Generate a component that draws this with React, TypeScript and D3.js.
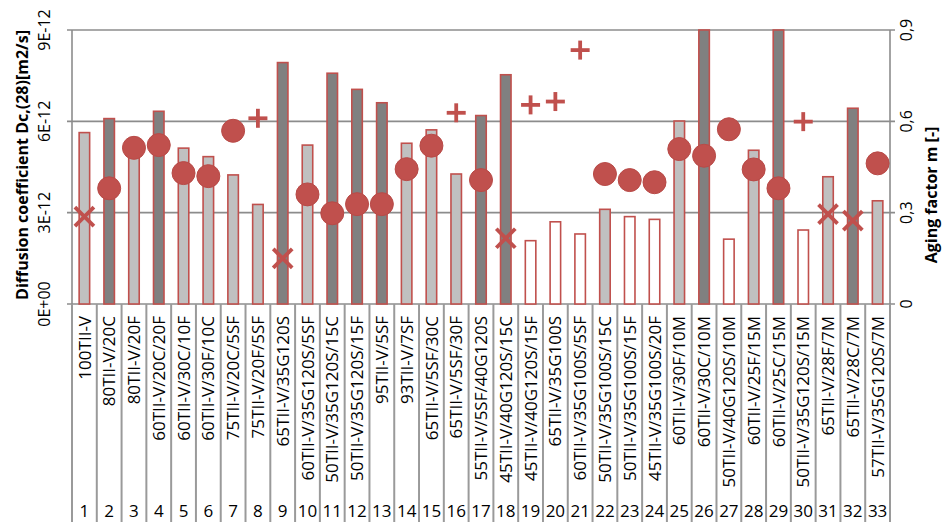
import React from "react";
import * as d3 from "d3";

const labels = ["100TII-V","80TII-V/20C","80TII-V/20F","60TII-V/20C/20F","60TII-V/30C/10F","60TII-V/30F/10C","75TII-V/20C/5SF","75TII-V/20F/5SF","65TII-V/35G120S","60TII-V/35G120S/5SF","50TII-V/35G120S/15C","50TII-V/35G120S/15F","95TII-V/5SF","93TII-V/7SF","65TII-V/5SF/30C","65TII-V/5SF/30F","55TII-V/5SF/40G120S","45TII-V/40G120S/15C","45TII-V/40G120S/15F","65TII-V/35G100S","60TII-V/35G100S/5SF","50TII-V/35G100S/15C","50TII-V/35G100S/15F","45TII-V/35G100S/20F","60TII-V/30F/10M","60TII-V/30C/10M","50TII-V/40G120S/10M","60TII-V/25F/15M","60TII-V/25C/15M","50TII-V/35G120S/15M","65TII-V/28F/7M","65TII-V/28C/7M","57TII-V/35G120S/7M"];
const numbers = labels.map((_, i) => String(i + 1));

// Diffusion coefficient Dc,(28) in units of 1E-12 m2/s
const diffusion = [5.63, 6.09, 5.1, 6.33, 5.12, 4.84, 4.24, 3.27, 7.93, 5.22, 7.58, 7.05, 6.61, 5.28, 5.72, 4.27, 6.19, 7.53, 2.08, 2.70, 2.30, 3.11, 2.87, 2.78, 6.01, 9.0, 2.13, 5.05, 9.0, 2.43, 4.18, 6.43, 3.39];
const barType = ["light","dark","light","dark","light","light","light","light","dark","light","dark","dark","dark","light","light","light","dark","dark","white","white","white","light","white","white","light","dark","white","light","dark","white","light","dark","light"];

// Aging factor m
const aging = [0.287, 0.380, 0.513, 0.522, 0.430, 0.420, 0.569, 0.610, 0.150, 0.360, 0.298, 0.328, 0.328, 0.443, 0.520, 0.628, 0.407, 0.216, 0.654, 0.665, 0.834, 0.427, 0.407, 0.400, 0.509, 0.487, 0.574, 0.442, 0.380, 0.599, 0.295, 0.274, 0.462];
const markerType = ["x","circle","circle","circle","circle","circle","circle","plus","x","circle","circle","circle","circle","circle","circle","plus","circle","x","plus","plus","plus","circle","circle","circle","circle","circle","circle","circle","circle","plus","x","x","circle"];

const leftTicks = [0, 3, 6, 9];
const leftTickLabels = ["0E+00", "3E-12", "6E-12", "9E-12"];
const rightTicks = [0, 0.3, 0.6, 0.9];
const rightTickLabels = ["0", "0,3", "0,6", "0,9"];

const W = 944, H = 524;
const X0 = 72, X1 = 890, Y0 = 304, Y1 = 30;
const RED = "#c0504d";
const GRID = "#8c8c8c";
const FONT = "'Open Sans', sans-serif";
const fills: Record<string, string> = { light: "#c0c0c0", dark: "#808080", white: "#ffffff" };

export default function App() {
  const idx = labels.map((_, i) => i);
  const x = d3.scaleBand<number>().domain(idx).range([X0, X1]);
  const yL = d3.scaleLinear().domain([0, 9]).range([Y0, Y1]);
  const yR = d3.scaleLinear().domain([0, 0.9]).range([Y0, Y1]);
  const bw = 10.5;
  const cx = (i: number) => (x(i) as number) + x.bandwidth() / 2;
  const ms = 9.5;

  return (
    <svg width={W} height={H} style={{ position: "absolute", left: 0, top: 0, background: "#fff" }} fontFamily={FONT}>
      {/* gridlines */}
      {leftTicks.map((t) => (
        <line key={"g" + t} x1={X0 - 5} x2={X1 + 5} y1={yL(t)} y2={yL(t)} stroke={GRID} strokeWidth={1.6} />
      ))}
      {/* axes */}
      <line x1={X0} x2={X0} y1={Y1} y2={Y0} stroke={GRID} strokeWidth={1.6} />
      <line x1={X1} x2={X1} y1={Y1} y2={Y0} stroke={GRID} strokeWidth={1.6} />
      {/* category separators */}
      {d3.range(labels.length + 1).map((i) => {
        const xx = i < labels.length ? (x(i) as number) : X1;
        return <line key={"s" + i} x1={xx} x2={xx} y1={Y0} y2={522} stroke="#9a9a9a" strokeWidth={2} />;
      })}
      {/* bars */}
      {diffusion.map((v, i) => (
        <rect key={"b" + i} x={cx(i) - bw / 2} y={yL(Math.min(v, 9))} width={bw} height={Y0 - yL(Math.min(v, 9))}
          fill={fills[barType[i]]} stroke={RED} strokeWidth={1.6} />
      ))}
      {/* markers */}
      {aging.map((m, i) => {
        const px = cx(i), py = yR(m);
        const t = markerType[i];
        if (t === "circle") return <circle key={"m" + i} cx={px} cy={py} r={11.5} fill={RED} stroke="#b84a47" strokeWidth={1} />;
        if (t === "plus") return (
          <g key={"m" + i} stroke={RED} strokeWidth={3.8}>
            <line x1={px - ms} x2={px + ms} y1={py} y2={py} />
            <line x1={px} x2={px} y1={py - ms} y2={py + ms} />
          </g>
        );
        return (
          <g key={"m" + i} stroke={RED} strokeWidth={3.8}>
            <line x1={px - ms} x2={px + ms} y1={py - ms} y2={py + ms} />
            <line x1={px - ms} x2={px + ms} y1={py + ms} y2={py - ms} />
          </g>
        );
      })}
      {/* category labels */}
      {labels.map((l, i) => (
        <text key={"l" + i} transform={`translate(${cx(i)},316) rotate(-90)`} textAnchor="end" dy="0.36em" fontSize={17} fill="#000">{l}</text>
      ))}
      {numbers.map((n, i) => (
        <text key={"n" + i} x={cx(i)} y={517} textAnchor="middle" fontSize={17} fill="#000">{n}</text>
      ))}
      {/* left tick labels */}
      {leftTicks.map((t, i) => (
        <text key={"lt" + t} transform={`translate(50,${yL(t)}) rotate(-90)`} textAnchor="middle" fontSize={16} fill="#000">{leftTickLabels[i]}</text>
      ))}
      {rightTicks.map((t, i) => (
        <text key={"rt" + t} transform={`translate(912,${yR(t)}) rotate(-90)`} textAnchor="middle" fontSize={16} fill="#000">{rightTickLabels[i]}</text>
      ))}
      <text transform="translate(28,165) rotate(-90)" textAnchor="middle" fontSize={16} fontWeight="bold" fill="#000">Diffusion coefficient Dc,(28)[m2/s]</text>
      <text transform="translate(937,195) rotate(-90)" textAnchor="middle" fontSize={16} fontWeight="bold" fill="#000">Aging factor m [-]</text>
    </svg>
  );
}
